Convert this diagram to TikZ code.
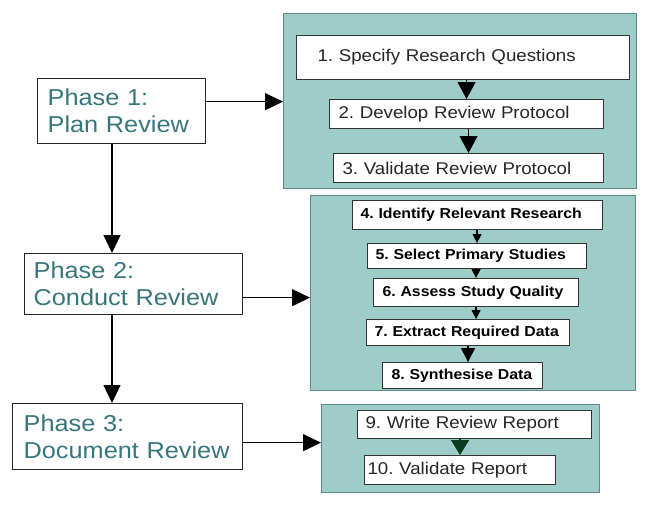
\documentclass[tikz,border=0pt]{standalone}
\usepackage{fontspec}
\setmainfont{Liberation Sans}[FakeStretch=1.1]
\usetikzlibrary{arrows.meta}
\definecolor{panelfill}{RGB}{158,204,201}
\definecolor{panelline}{RGB}{96,138,138}
\definecolor{phasetext}{RGB}{55,118,124}
\definecolor{darkgreen}{RGB}{12,60,30}
\frenchspacing

\begin{document}
\begin{tikzpicture}[x=1pt,y=-1pt,
    phasebox/.style={draw=black!85,line width=1.3pt,fill=white,anchor=north west,align=left,
      inner ysep=0pt,text=phasetext,font=\fontsize{23}{27}\selectfont},
    panelbox/.style={draw=panelline,line width=1pt,fill=panelfill,anchor=north west,inner sep=0pt},
    stepbox/.style={draw=black!80,line width=1.1pt,fill=white,anchor=north west,align=left,
      inner xsep=8pt,inner ysep=0pt,text=black!85,font=\fontsize{17}{20}\selectfont},
    boldstep/.style={stepbox,text=black,font=\fontsize{14.4}{17}\selectfont\bfseries},
    bigarrow/.style={-{Triangle[length=18pt,width=17pt]},line width=1.2pt},
    smallarrow/.style={-{Triangle[length=9pt,width=9pt]},line width=1.2pt}
  ]
  \useasboundingbox (0,0) rectangle (649,506);

  % phases
  \node [phasebox,minimum width=168pt,minimum height=65pt,inner xsep=10pt,text width=148pt] (p1) at (37,78) {Phase 1:\\Plan Review};
  \node [phasebox,minimum width=218pt,minimum height=61pt,inner xsep=9pt,text width=200pt] (p2) at (24,253) {Phase 2:\\Conduct Review};
  \node [phasebox,minimum width=230pt,minimum height=66pt,inner xsep=11pt,text width=208pt] (p3) at (12,403) {Phase 3:\\Document Review};

  % panels
  \node [panelbox,minimum width=353pt,minimum height=175pt] (t1) at (283,13) {};
  \node [panelbox,minimum width=325pt,minimum height=195pt] (t2) at (310,195) {};
  \node [panelbox,minimum width=278pt,minimum height=88pt] (t3) at (321,404) {};

  % steps of phase 1
  \node [stepbox,minimum width=333pt,minimum height=44pt,inner xsep=21pt,text width=291pt] (s1) at (296,35) {1. Specify Research Questions};
  \node [stepbox,minimum width=274pt,minimum height=29pt,inner xsep=9pt,text width=256pt] (s2) at (329,99) {2. Develop Review Protocol};
  \node [stepbox,minimum width=270pt,minimum height=29pt,inner xsep=9pt,text width=252pt] (s3) at (333,153) {3. Validate Review Protocol};

  % steps of phase 2
  \node [boldstep,minimum width=250pt,minimum height=29pt,text width=234pt] (s4) at (352,200) {4. Identify Relevant Research};
  \node [boldstep,minimum width=219pt,minimum height=25pt,text width=203pt] (s5) at (367,243) {5. Select Primary Studies};
  \node [boldstep,minimum width=205pt,minimum height=28pt,inner xsep=9pt,text width=187pt] (s6) at (373,278) {6. Assess Study Quality};
  \node [boldstep,minimum width=203pt,minimum height=26pt,text width=187pt] (s7) at (366,319) {7. Extract Required Data};
  \node [boldstep,minimum width=160pt,minimum height=26pt,inner xsep=9pt,text width=142pt] (s8) at (382,362) {8. Synthesise Data};

  % steps of phase 3
  \node [stepbox,minimum width=234pt,minimum height=28pt,text width=218pt] (s9) at (357,410) {9. Write Review Report};
  \node [stepbox,minimum width=191pt,minimum height=29pt,inner xsep=3pt,text width=185pt] (s10) at (364,455) {10. Validate Report};

  % phase arrows
  \coordinate (vx) at (112,0);
  \draw [bigarrow] (p1.south -| vx) -- (p2.north -| vx);
  \draw [bigarrow] (p2.south -| vx) -- (p3.north -| vx);
  \path ([yshift=9.5pt]p1.east) coordinate (a1);
  \path ([yshift=-13.5pt]p2.east) coordinate (a2);
  \path ([yshift=-6pt]p3.east) coordinate (a3);
  \draw [bigarrow] (a1) -- (a1 -| t1.west);
  \draw [bigarrow] (a2) -- (a2 -| t2.west);
  \draw [bigarrow] (a3) -- (a3 -| t3.west);

  % step arrows
  \draw [-{Triangle[length=17pt,width=18pt]},line width=1.2pt] (s1.south -| s2.north) -- (s2.north);
  \draw [-{Triangle[length=17pt,width=18pt]},line width=1.2pt] (s2.south -| s3.north) -- (s3.north);
  \draw [smallarrow] (s4.south -| s5.north) -- (s5.north);
  \draw [smallarrow] (s5.south -| s6.north) -- (s6.north);
  \draw [smallarrow] (s6.south) -- (s6.south |- s7.north);
  \draw [-{Triangle[length=14pt,width=14pt]},line width=1.2pt] (s7.south) -- (s7.south |- s8.north);
  \draw [-{Triangle[length=15pt,width=18pt]},line width=1.2pt,darkgreen] (s9.south -| s10.north) -- (s10.north);
\end{tikzpicture}
\end{document}
